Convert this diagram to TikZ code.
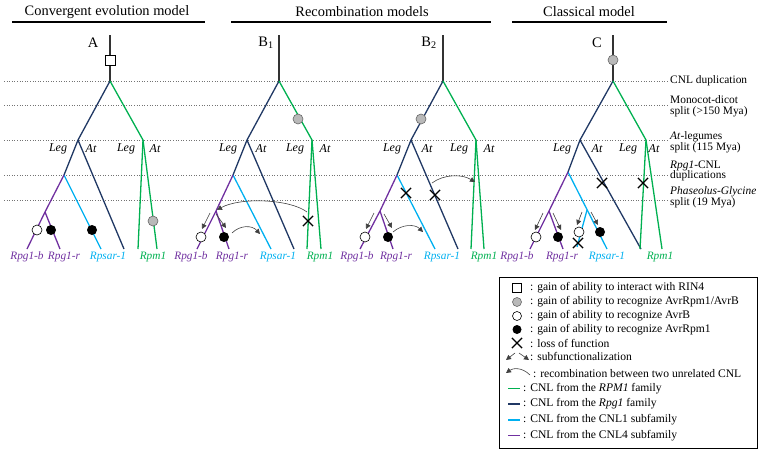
\documentclass[tikz,border=0pt]{standalone}
\usepackage{fontspec}
\setmainfont{Liberation Serif}
\usetikzlibrary{arrows.meta,calc,shapes.misc}
\definecolor{cgreen}{RGB}{0,176,80}
\definecolor{cnavy}{RGB}{32,56,100}
\definecolor{ccyan}{RGB}{0,176,240}
\definecolor{cpurple}{RGB}{112,48,160}
\definecolor{cgray}{RGB}{185,185,185}
\begin{document}
\begin{tikzpicture}[x=1pt,y=-1pt,
  hline/.style={draw=black!55, dotted, line width=0.6},
  ttl/.style={font=\fontsize{14.4}{16}\selectfont},
  uline/.style={draw=black, line width=1.1},
  rootl/.style={draw=black!80, line width=1.5},
  gr/.style={draw=cgreen, line width=1.3, line join=round},
  nv/.style={draw=cnavy, line width=1.3, line join=round},
  cy/.style={draw=ccyan, line width=1.3, line join=round},
  pu/.style={draw=cpurple, line width=1.3, line join=round},
  clab/.style={font=\fontsize{12}{13}\selectfont\itshape, inner sep=0},
  leaf/.style={font=\fontsize{11.3}{12}\selectfont\itshape, inner sep=0},
  tlab/.style={font=\fontsize{14.5}{16}\selectfont, inner sep=0},
  rlab/.style={font=\fontsize{11.4}{10.6}\selectfont, align=left, anchor=west, inner sep=0},
  wcirc/.style={circle, draw=black, fill=white, minimum size=10, inner sep=0, line width=0.6},
  bcirc/.style={circle, fill=black, minimum size=10, inner sep=0},
  gcirc/.style={circle, draw=black!60, fill=cgray, minimum size=10, inner sep=0, line width=0.6},
  sqm/.style={draw=black, fill=white, minimum size=10, inner sep=0, line width=0.7},
  xm/.style={cross out, draw=black, minimum size=9, inner sep=0, line width=1.2},
  arr/.style={-{Triangle[length=5,width=5]}, draw=black!75, line width=0.6},
  legt/.style={font=\fontsize{11.6}{13}\selectfont, anchor=west, inner sep=0},
]
\useasboundingbox (0,0) rectangle (762,453);

% ---------- titles ----------
\node[ttl] (t1) at (107,12) {Convergent evolution model};
\node[ttl] (t2) at (362,12) {Recombination models};
\node[ttl] (t3) at (589,12) {Classical model};
\coordinate (u1a) at (12,22); \coordinate (u1b) at (205,22);
\coordinate (u2a) at (231,22); \coordinate (u2b) at (491,22);
\coordinate (u3a) at (512,22); \coordinate (u3b) at (667,22);
\draw[uline] (u1a) -- (u1b);
\draw[uline] (u2a) -- (u2b);
\draw[uline] (u3a) -- (u3b);

% ---------- time lines ----------
\foreach \n/\y in {h1/81,h2/105,h3/140,h4/175,h5/200}{
  \coordinate (\n a) at (4,\y); \coordinate (\n b) at (668,\y);
  \draw[hline] (\n a) -- (\n b);
}
\node[rlab] (r1) at (670,81) {CNL duplication};
\node[rlab] (r2) at (670,106.5) {Monocot-dicot\\split (>150 Mya)};
\node[rlab] (r3) at (670,142) {\textit{At}-legumes\\split (115 Mya)};
\node[rlab] (r4) at (670,171) {\textit{Rpg1}-CNL\\duplications};
\node[rlab] (r5) at (670,197) {\textit{Phaseolus-Glycine}\\split (19 Mya)};

% ---------- tree A ----------
\coordinate (Atop) at (110,35); \coordinate (Aroot) at (110,81);
\coordinate (Ab) at (78,140);   \coordinate (Ag) at (143,140);
\coordinate (As) at (64,175);   \coordinate (AbAt) at (124,249);
\coordinate (Acy) at (101,249); \coordinate (App) at (45,212);
\coordinate (Ap1) at (27,249);  \coordinate (Ap2) at (60,249);
\coordinate (AgL) at (138,249); \coordinate (AgA) at (157,249);
\draw[rootl] (Atop) -- (Aroot);
\draw[nv] (Aroot) -- (Ab) -- (As);
\draw[nv] (Ab) -- (AbAt);
\draw[gr] (Aroot) -- (Ag) -- (AgL);
\draw[gr] (Ag) -- (AgA);
\draw[cy] (As) -- (Acy);
\draw[pu] (As) -- (App) -- (Ap1);
\draw[pu] (App) -- (Ap2);
\node[tlab] (Alab) at (93,43) {A};
\node[sqm] (Asq) at (110,60) {};
\node[wcirc] (Aw) at (37,230) {};
\node[bcirc] (Abk1) at (51,230) {};
\node[bcirc] (Abk2) at (92,230) {};
\node[gcirc] (Agc) at (153,221) {};
\node[clab] (AL1) at (58,149) {Leg};
\node[clab] (AA1) at (91,149) {At};
\node[clab] (AL2) at (126,149) {Leg};
\node[clab] (AA2) at (155,149) {At};
\node[leaf, text=cpurple] (Al1) at (27,257) {Rpg1-b};
\node[leaf, text=cpurple] (Al2) at (64,257) {Rpg1-r};
\node[leaf, text=ccyan] (Al3) at (108,257) {Rpsar-1};
\node[leaf, text=cgreen] (Al4) at (153,257) {Rpm1};

% ---------- tree B1 ----------
\coordinate (Btop) at (279,35); \coordinate (Broot) at (279,81);
\coordinate (Bb) at (247,140);  \coordinate (Bg) at (312,140);
\coordinate (Bs) at (233,175);  \coordinate (BbAt) at (294,249);
\coordinate (Bcy) at (271,249); \coordinate (Bpp) at (216,211);
\coordinate (Bp1) at (197,249); \coordinate (Bp2) at (229,249);
\coordinate (BgL) at (307,249); \coordinate (BgA) at (321,249);
\draw[rootl] (Btop) -- (Broot);
\draw[nv] (Broot) -- (Bb) -- (Bs);
\draw[nv] (Bb) -- (BbAt);
\draw[gr] (Broot) -- (Bg) -- (BgL);
\draw[gr] (Bg) -- (BgA);
\draw[cy] (Bs) -- (Bcy);
\draw[pu] (Bs) -- (Bpp) -- (Bp1);
\draw[pu] (Bpp) -- (Bp2);
\node[tlab] (Blab) at (266,43) {B\textsubscript{1}};
\node[gcirc] (Bgc) at (298,119) {};
\node[xm] (Bx) at (308,221) {};
\node[wcirc] (Bw) at (201,237) {};
\node[bcirc] (Bbk) at (224,237) {};
\coordinate (Bs1a) at (210,213); \coordinate (Bs1b) at (202,229);
\coordinate (Bs2a) at (216,214); \coordinate (Bs2b) at (226,228);
\draw[arr] (Bs1a) -- (Bs1b);
\draw[arr] (Bs2a) -- (Bs2b);
\coordinate (Bra) at (307,212); \coordinate (Brb) at (217,210);
\draw[arr] (Bra) .. controls (290,199) and (240,197) .. (Brb);
\coordinate (Bca) at (232,233); \coordinate (Bcb) at (260,234);
\draw[arr] (Bca) .. controls (240,225) and (252,225) .. (Bcb);
\node[clab] (BL1) at (228,149) {Leg};
\node[clab] (BA1) at (261,149) {At};
\node[clab] (BL2) at (295,149) {Leg};
\node[clab] (BA2) at (325,149) {At};
\node[leaf, text=cpurple] (Bl1) at (191,257) {Rpg1-b};
\node[leaf, text=cpurple] (Bl2) at (232,257) {Rpg1-r};
\node[leaf, text=ccyan] (Bl3) at (278,257) {Rpsar-1};
\node[leaf, text=cgreen] (Bl4) at (320,257) {Rpm1};

% ---------- tree B2 ----------
\coordinate (Dtop) at (443,35); \coordinate (Droot) at (443,81);
\coordinate (Db) at (411,140);  \coordinate (Dg) at (476,140);
\coordinate (Ds) at (397,175);  \coordinate (DbAt) at (458,249);
\coordinate (Dcy) at (435,249); \coordinate (Dpp) at (380,211);
\coordinate (Dp1) at (360,249); \coordinate (Dp2) at (393,249);
\coordinate (DgL) at (471,249); \coordinate (DgA) at (484,249);
\draw[rootl] (Dtop) -- (Droot);
\draw[nv] (Droot) -- (Db) -- (Ds);
\draw[nv] (Db) -- (DbAt);
\draw[gr] (Droot) -- (Dg) -- (DgL);
\draw[gr] (Dg) -- (DgA);
\draw[cy] (Ds) -- (Dcy);
\draw[pu] (Ds) -- (Dpp) -- (Dp1);
\draw[pu] (Dpp) -- (Dp2);
\node[tlab] (Dlab) at (429,43) {B\textsubscript{2}};
\node[gcirc] (Dgc) at (421,119) {};
\node[xm] (Dx1) at (406,193) {};
\node[xm] (Dx2) at (435,195) {};
\node[wcirc] (Dw) at (365,237) {};
\node[bcirc] (Dbk) at (388,237) {};
\coordinate (Ds1a) at (374,213); \coordinate (Ds1b) at (366,229);
\coordinate (Ds2a) at (384,214); \coordinate (Ds2b) at (392,228);
\draw[arr] (Ds1a) -- (Ds1b);
\draw[arr] (Ds2a) -- (Ds2b);
\coordinate (Dra) at (432,183); \coordinate (Drb) at (475,182);
\draw[arr] (Dra) .. controls (444,174) and (462,174) .. (Drb);
\coordinate (Dca) at (393,232); \coordinate (Dcb) at (423,232);
\draw[arr] (Dca) .. controls (402,224) and (415,224) .. (Dcb);
\node[clab] (DL1) at (392,149) {Leg};
\node[clab] (DA1) at (427,149) {At};
\node[clab] (DL2) at (459,149) {Leg};
\node[clab] (DA2) at (489,149) {At};
\node[leaf, text=cpurple] (Dl1) at (357,257) {Rpg1-b};
\node[leaf, text=cpurple] (Dl2) at (396,257) {Rpg1-r};
\node[leaf, text=ccyan] (Dl3) at (442,257) {Rpsar-1};
\node[leaf, text=cgreen] (Dl4) at (484,257) {Rpm1};

% ---------- tree C ----------
\coordinate (Ctop) at (613,35); \coordinate (Croot) at (613,81);
\coordinate (Cb) at (580,140);  \coordinate (Cg) at (646,140);
\coordinate (Cs) at (568,172);  \coordinate (CbAt) at (641,249);
\coordinate (Ccy) at (607,249); \coordinate (Ccs) at (587,210);
\coordinate (Ccy2) at (577,247);\coordinate (Cpp) at (549,211);
\coordinate (Cp1) at (530,249); \coordinate (Cp2) at (563,249);
\coordinate (CgL) at (640,249); \coordinate (CgA) at (662,249);
\draw[rootl] (Ctop) -- (Croot);
\draw[nv] (Croot) -- (Cb) -- (Cs);
\draw[nv] (Cb) -- (CbAt);
\draw[gr] (Croot) -- (Cg) -- (CgL);
\draw[gr] (Cg) -- (CgA);
\draw[cy] (Cs) -- (Ccy);
\draw[cy] (Ccs) -- (Ccy2);
\draw[pu] (Cs) -- (Cpp) -- (Cp1);
\draw[pu] (Cpp) -- (Cp2);
\node[tlab] (Clab) at (597,43) {C};
\node[gcirc] (Cgc) at (613,60) {};
\node[xm] (Cx1) at (602,183) {};
\node[xm] (Cx2) at (643,183) {};
\node[wcirc] (Cw1) at (536,237) {};
\node[bcirc] (Cbk1) at (558,237) {};
\node[wcirc] (Cw2) at (579,232) {};
\node[bcirc] (Cbk2) at (600,232) {};
\node[xm] (Cx3) at (578,243) {};
\coordinate (Cs1a) at (543,213); \coordinate (Cs1b) at (535,230);
\coordinate (Cs2a) at (553,213); \coordinate (Cs2b) at (561,230);
\coordinate (Cs3a) at (582,212); \coordinate (Cs3b) at (577,225);
\coordinate (Cs4a) at (591,212); \coordinate (Cs4b) at (598,225);
\draw[arr] (Cs1a) -- (Cs1b);
\draw[arr] (Cs2a) -- (Cs2b);
\draw[arr] (Cs3a) -- (Cs3b);
\draw[arr] (Cs4a) -- (Cs4b);
\node[clab] (CL1) at (562,149) {Leg};
\node[clab] (CA1) at (597,149) {At};
\node[clab] (CL2) at (628,149) {Leg};
\node[clab] (CA2) at (654,149) {At};
\node[leaf, text=cpurple] (Cl1) at (517,257) {Rpg1-b};
\node[leaf, text=cpurple] (Cl2) at (562,257) {Rpg1-r};
\node[leaf, text=ccyan] (Cl3) at (607,257) {Rpsar-1};
\node[leaf, text=cgreen] (Cl4) at (660,257) {Rpm1};

% ---------- legend ----------
\coordinate (lg1) at (499,277); \coordinate (lg2) at (757,448);
\draw[line width=1] (lg1) rectangle (lg2);
\node[sqm, minimum size=9] (k1) at (517,288) {};
\node[legt] (k1t) at (530,288) {: gain of ability to interact with RIN4};
\node[gcirc, minimum size=9] (k2) at (517,302) {};
\node[legt] (k2t) at (530,302) {: gain of ability to recognize AvrRpm1/AvrB};
\node[wcirc, minimum size=9] (k3) at (517,316) {};
\node[legt] (k3t) at (530,316) {: gain of ability to recognize AvrB};
\node[bcirc, minimum size=9] (k4) at (517,329.5) {};
\node[legt] (k4t) at (530,329.5) {: gain of ability to recognize AvrRpm1};
\node[xm] (k5) at (517,343) {};
\node[legt] (k5t) at (530,343) {: loss of function};
\coordinate (k6a) at (515,353); \coordinate (k6b) at (506,360);
\coordinate (k6c) at (519,353); \coordinate (k6d) at (529,360);
\draw[arr] (k6a) -- (k6b);
\draw[arr] (k6c) -- (k6d);
\node[legt] (k6t) at (530,356.5) {: subfunctionalization};
\coordinate (k7a) at (530,375); \coordinate (k7b) at (506,373);
\draw[arr] (k7a) .. controls (522,367) and (513,368) .. (k7b);
\node[legt] (k7t) at (533,373.5) {: recombination between two unrelated CNL};
\foreach \n/\y/\c/\t in {k8/388.5/cgreen/{CNL from the \textit{RPM1} family},
                         k9/404/cnavy/{CNL from the \textit{Rpg1} family},
                         k10/420/ccyan/{CNL from the CNL1 subfamily},
                         k11/435.5/cpurple/{CNL from the CNL4 subfamily}}{
  \coordinate (\n a) at (508,\y); \coordinate (\n b) at (520,\y);
  \draw[draw=\c, line width=1.3] (\n a) -- (\n b);
  \node[legt] (\n t) at (523,\y) {: \t};
}
\end{tikzpicture}
\end{document}
